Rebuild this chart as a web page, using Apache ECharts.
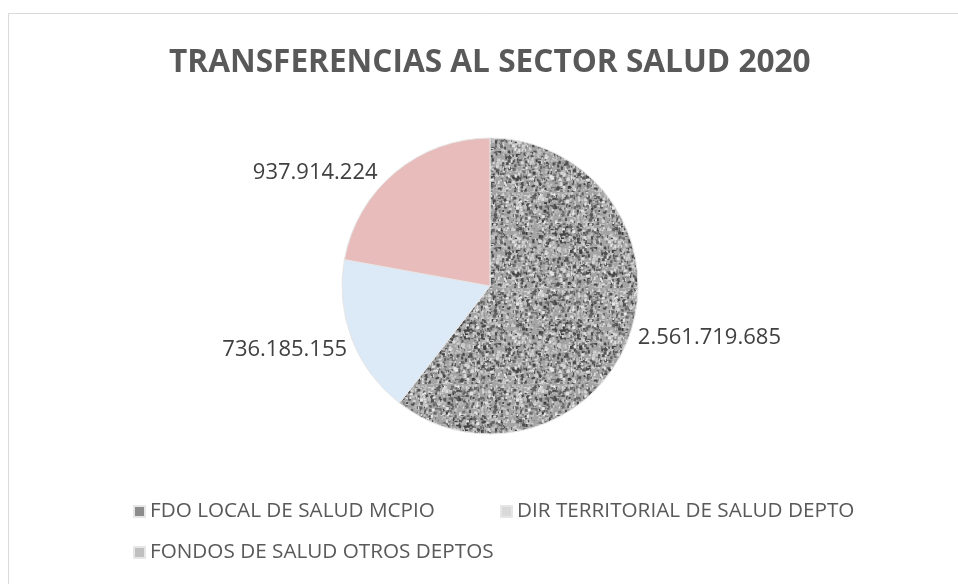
<!DOCTYPE html>
<html><head><meta charset="utf-8">
<script src="https://cdn.jsdelivr.net/npm/echarts@6/dist/echarts.min.js"></script>
<style>html,body{margin:0;padding:0;background:#fff;}#c{width:958px;height:584px;}</style>
</head><body><div id="c"></div>
<script>
const titleText = 'TRANSFERENCIAS AL SECTOR SALUD 2020';
const categories = ['FDO LOCAL DE SALUD MCPIO', 'DIR TERRITORIAL DE SALUD DEPTO', 'FONDOS DE SALUD OTROS DEPTOS'];
const values = [2561719685, 736185155, 937914224];
const sliceColors = ['#a3a3a3', '#dce9f7', '#e8bcbb'];
const legendColors = ['#8c8c8c', '#d9d9d9', '#bfbfbf'];

function speckle() {
  const c = document.createElement('canvas');
  c.width = 96; c.height = 96;
  const g = c.getContext('2d');
  g.fillStyle = '#a4a4a4'; g.fillRect(0, 0, 96, 96);
  let s = 12345;
  const rnd = () => { s = (s * 1103515245 + 12345) & 0x7fffffff; return s / 0x7fffffff; };
  for (let i = 0; i < 1800; i++) {
    const x = rnd() * 96, y = rnd() * 96, r = rnd();
    const v = r < 0.45 ? Math.floor(60 + rnd() * 60) : Math.floor(185 + rnd() * 50);
    g.fillStyle = 'rgb(' + v + ',' + v + ',' + v + ')';
    g.fillRect(x, y, 1 + Math.floor(rnd() * 3), 1 + Math.floor(rnd() * 3));
  }
  return c;
}

function fmt(v) { return String(v).replace(/\B(?=(\d{3})+(?!\d))/g, '.'); }

const chart = echarts.init(document.getElementById('c'), null, {renderer: 'canvas'});
const pattern = {image: speckle(), repeat: 'repeat'};
const data = categories.map((n, i) => ({
  name: n, value: values[i],
  itemStyle: {color: i === 0 ? pattern : sliceColors[i]}
}));
const legendPos = [[128, 496], [495, 496], [128, 537]];
const labelNudge = [[-1, 3], [4, 9], [-10, 3]];
const font = "'Open Sans', sans-serif";
chart.setOption({
  animation: false,
  backgroundColor: '#fff',
  graphic: [{type: 'rect', shape: {x: 8.5, y: 13.5, width: 1000, height: 1000}, style: {fill: 'none', stroke: '#d9d9d9', lineWidth: 1}}],
  title: {text: titleText, left: 164, top: 42, textStyle: {fontFamily: font, fontWeight: 'bold', fontSize: 31.6, color: '#595959'}},
  legend: categories.map((n, i) => ({
    data: [{name: n, itemStyle: {color: legendColors[i]}}],
    left: legendPos[i][0], top: legendPos[i][1], icon: 'rect', itemWidth: 11, itemHeight: 11,
    textStyle: {fontFamily: font, fontSize: 20.7, color: '#595959'}, selectedMode: false
  })),
  series: [{
    type: 'pie', center: [490, 286], radius: 148, startAngle: 90, clockwise: true,
    data: data,
    itemStyle: {borderColor: '#e6e6e6', borderWidth: 1},
    label: {show: true, position: 'outside', formatter: p => fmt(p.value), fontFamily: font, fontSize: 22, color: '#404040'},
    labelLine: {show: false, length: 4, length2: 0},
    labelLayout: p => ({dx: labelNudge[p.dataIndex][0], dy: labelNudge[p.dataIndex][1]}),
    emphasis: {disabled: true}
  }]
});
</script></body></html>
